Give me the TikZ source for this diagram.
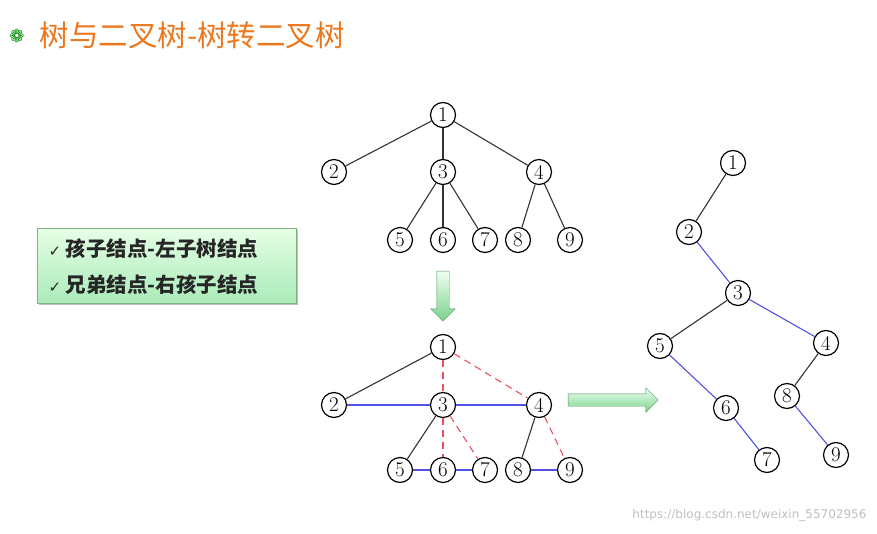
\documentclass[tikz,border=0pt]{standalone}
\usepackage{fontspec}
\newfontfamily\cjk{Noto Sans CJK SC}
\newfontfamily\dv{DejaVu Sans}
\usetikzlibrary{shapes.arrows,shadows}
\definecolor{ttl}{RGB}{236,120,30}
\definecolor{bl}{RGB}{80,80,230}
\definecolor{rd}{RGB}{235,80,95}
\definecolor{gfill}{RGB}{170,235,185}
\definecolor{garr}{RGB}{120,210,140}
\tikzset{
 nd/.style={circle,draw,line width=1.2pt,fill=white,minimum size=25pt,inner sep=0pt,font=\fontsize{21pt}{21pt}\selectfont},
 ch/.style={draw=black!80,line width=1.1pt},
 br/.style={draw=bl,line width=1.1pt},
 da/.style={draw=rd,line width=1.1pt,dash pattern=on 7pt off 5pt},
 garrow/.style={single arrow,draw=garr!70!black,top color=green!6,bottom color=garr,single arrow head extend=6pt,inner sep=6pt},
}
\begin{document}
\begin{tikzpicture}[x=1pt,y=-1pt]
\useasboundingbox (0,0) rectangle (877,534);
\node[text=green!55!black,font=\dv\fontsize{18pt}{18pt}\selectfont] (ic) at (17,36) {❁};
\node[anchor=west,text=ttl,font=\cjk\fontsize{29.5pt}{29.5pt}\selectfont] (t) at (36,35) {树与二叉树-树转二叉树};
\node[draw=green!40!black!50,top color=green!10,bottom color=gfill,drop shadow,minimum width=259pt,minimum height=75pt,anchor=north west] (box) at (37,228) {};
\node[anchor=west,font=\cjk\bfseries\fontsize{20.5pt}{20.5pt}\selectfont,text=black!85] (l1) at (45,249) {{\dv\fontsize{15pt}{15pt}\selectfont ✓} 孩子结点-左子树结点};
\node[anchor=west,font=\cjk\bfseries\fontsize{20.5pt}{20.5pt}\selectfont,text=black!85] (l2) at (45,285) {{\dv\fontsize{15pt}{15pt}\selectfont ✓} 兄弟结点-右孩子结点};
% top tree
\foreach \n/\x/\y in {1/443/115,2/334/172,3/443/172,4/539/172,5/400/240,6/443/240,7/485/240,8/518/240,9/570/240}
  \node[nd] (a\n) at (\x,\y) {\n};
\foreach \p/\q in {1/2,1/3,1/4,3/5,3/6,3/7,4/8,4/9} \draw[ch] (a\p) -- (a\q);
% arrows
\node[garrow,shape border rotate=270,minimum height=50pt] (da1) at (443,293) {};
\node[garrow,minimum height=90pt] (ra1) at (610,400) {};
% bottom tree
\foreach \n/\x/\y in {1/443/347,2/334/405,3/443/405,4/539/405,5/400/470,6/443/470,7/485/470,8/518/470,9/570/470}
  \node[nd] (b\n) at (\x,\y) {\n};
\draw[ch] (b1) -- (b2); \draw[ch] (b3) -- (b5); \draw[ch] (b4) -- (b8);
\draw[br] (b2) -- (b3);
\draw[br] (b3) -- (b4);
\draw[br] (b5) -- (b6);
\draw[br] (b6) -- (b7);
\draw[br] (b8) -- (b9);
\draw[da] (b1) -- (b3);
\draw[da] (b1) -- (b4);
\draw[da] (b3) -- (b6);
\draw[da] (b3) -- (b7);
\draw[da] (b4) -- (b9);
% binary tree
\foreach \n/\x/\y in {1/733/163,2/689/232,3/738/293,4/826/343,5/660/346,6/726/408,7/767/460,8/787/396,9/836/455}
  \node[nd] (c\n) at (\x,\y) {\n};
\draw[ch] (c1) -- (c2); \draw[ch] (c3) -- (c5); \draw[ch] (c4) -- (c8);
\foreach \p/\q in {2/3,3/4,5/6,6/7,8/9} \draw[br] (c\p) -- (c\q);
\node[anchor=east,text=black!25,font=\dv\fontsize{12pt}{12pt}\selectfont] (wm) at (870,515) {https://blog.csdn.net/weixin\_55702956};
\end{tikzpicture}
\end{document}
